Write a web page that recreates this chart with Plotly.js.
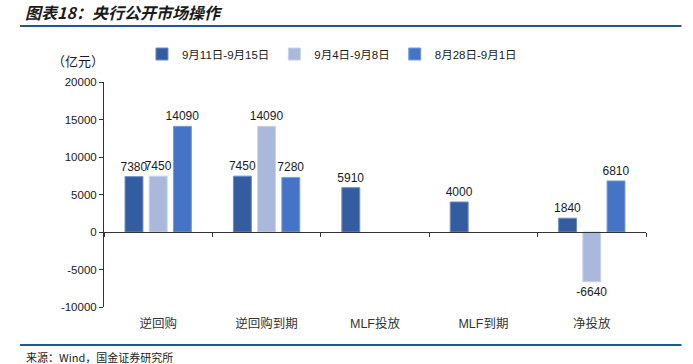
<!DOCTYPE html>
<html>
<head>
<meta charset="utf-8">
<script src="https://cdn.plot.ly/plotly-3.0.1.min.js"></script>
<style>html,body{margin:0;padding:0;background:#fff;}#chart{width:693px;height:364px;}</style>
</head>
<body>
<div id="chart"></div>
<script>
var categories = ["逆回购", "逆回购到期", "MLF投放", "MLF到期", "净投放"];
var seriesNames = ["9月11日-9月15日", "9月4日-9月8日", "8月28日-9月1日"];
var week1 = [7380, 7450, 5910, 4000, 1840];
var week2 = [7450, 14090, null, null, -6640];
var week3 = [14090, 7280, null, null, 6810];
var yTicks = [-10000, -5000, 0, 5000, 10000, 15000, 20000];

var colors = ["#345DA1", "#A9B8DB", "#4573C5"];
var edges = ["#6F8CC0", "#C9D3EA", "#7B9CD8"];
var values = [week1, week2, week3];

var L = 104, R = 646.5, T = 82, B = 307;
var W = R - L, H = B - T;
function px(x){ return (x - L) / W; }
function py(y){ return (B - y) / H; }

var traces = values.map(function(v, i){
  return {
    type: "bar",
    name: seriesNames[i],
    x: categories,
    y: v,
    text: v.map(function(d){ return d === null ? "" : String(d); }),
    textposition: "outside",
    constraintext: "none",
    cliponaxis: false,
    textfont: {family: "Liberation Sans, Arial, sans-serif", size: 12, color: "#1a1a1a"},
    marker: {color: colors[i], line: {color: edges[i], width: 1}},
    hoverinfo: "skip"
  };
});

var layout = {
  width: 693, height: 364,
  margin: {l: L, r: 693 - R, t: T, b: 364 - B},
  paper_bgcolor: "#fff", plot_bgcolor: "#fff",
  barmode: "group",
  bargap: 0.33,
  bargroupgap: 0.26,
  showlegend: true,
  legend: {
    orientation: "h",
    x: px(142), xanchor: "left",
    y: py(54), yanchor: "middle",
    font: {family: "Liberation Sans, Noto Sans CJK SC, sans-serif", size: 11.5, color: "#1a1a1a"},
    itemwidth: 30,
    traceorder: "normal",
    bgcolor: "rgba(0,0,0,0)"
  },
  title: {
    text: "<b><i>图表18：央行公开市场操作</i></b>",
    x: 25 / 693, xanchor: "left", xref: "container",
    y: 1 - 13 / 364, yanchor: "middle", yref: "container",
    font: {family: "Noto Sans CJK SC, sans-serif", size: 16, color: "#1a1a1a"}
  },
  xaxis: {
    type: "category",
    anchor: "free",
    position: 1 / 3,
    showline: true, linecolor: "#333", linewidth: 1,
    ticks: "outside", ticklen: 4, tickcolor: "#333",
    tickson: "boundaries",
    showgrid: false, zeroline: false,
    ticklabelstandoff: 80,
    tickfont: {family: "Liberation Sans, Noto Sans CJK SC, sans-serif", size: 12.5, color: "#333"},
    fixedrange: true
  },
  yaxis: {
    range: [-10000, 20000],
    tickvals: yTicks,
    ticktext: yTicks.map(String),
    showline: true, linecolor: "#333", linewidth: 1,
    ticks: "outside", ticklen: 4, tickcolor: "#333",
    showgrid: false, zeroline: false,
    tickfont: {family: "Liberation Sans, Arial, sans-serif", size: 11.5, color: "#1a1a1a"},
    fixedrange: true
  },
  shapes: [
    {type: "line", xref: "paper", yref: "paper", x0: px(20), x1: px(682), y0: py(26), y1: py(26),
     line: {color: "#1E5A8C", width: 2}},
    {type: "line", xref: "paper", yref: "paper", x0: px(20), x1: px(682), y0: py(345), y1: py(345),
     line: {color: "#1E5A8C", width: 2}}
  ],
  annotations: [
    {text: "（亿元）", xref: "paper", yref: "paper", x: px(50), y: py(60), xanchor: "left", yanchor: "middle",
     showarrow: false, font: {family: "Noto Sans CJK SC, sans-serif", size: 13, color: "#1a1a1a"}},
    {text: "来源：Wind，国金证券研究所", xref: "paper", yref: "paper", x: px(24), y: py(357), xanchor: "left", yanchor: "middle",
     showarrow: false, font: {family: "Noto Sans CJK SC, sans-serif", size: 11, color: "#222"}}
  ]
};

Plotly.newPlot("chart", traces, layout, {displayModeBar: false, staticPlot: true});
</script>
</body>
</html>
